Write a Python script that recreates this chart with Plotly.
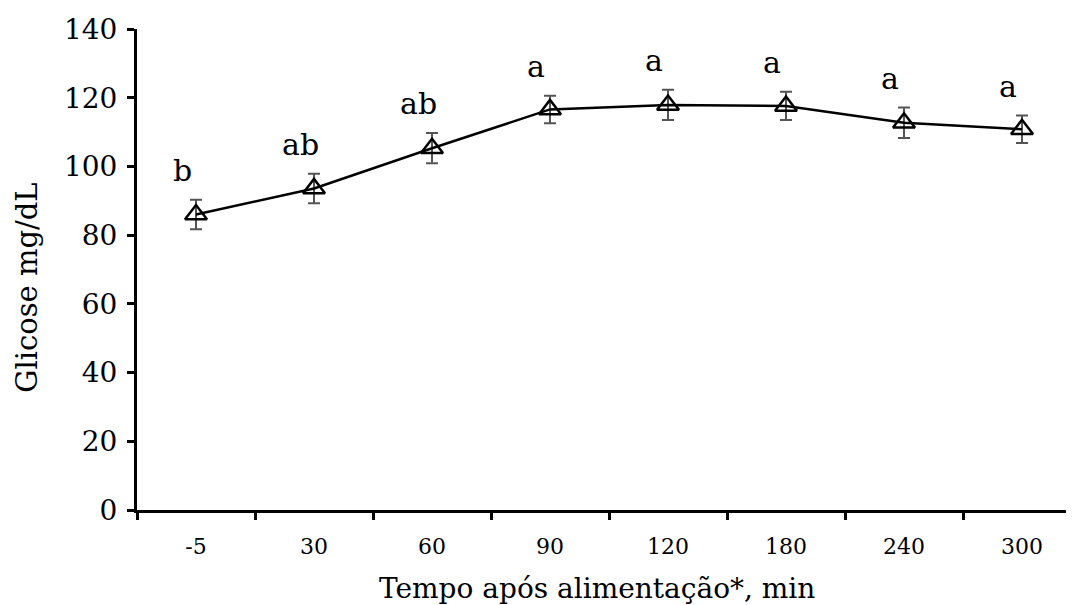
import plotly.graph_objects as go

categories = ["-5", "30", "60", "90", "120", "180", "240", "300"]
glicose = [86.0, 93.6, 105.3, 116.6, 117.9, 117.6, 112.7, 110.8]
erro = [4.3, 4.3, 4.4, 4.0, 4.4, 4.1, 4.45, 4.0]
letras = ["b", "ab", "ab", "a", "a", "a", "a", "a"]
y_ticks = [0, 20, 40, 60, 80, 100, 120, 140]

FONT = "DejaVu Serif"

fig = go.Figure()
fig.add_trace(go.Scatter(
    x=list(range(len(categories))), y=glicose,
    mode="lines+markers",
    line=dict(color="black", width=2.5),
    marker=dict(symbol="triangle-up-open", size=19, color="black",
                line=dict(color="black", width=2.5)),
    error_y=dict(type="data", array=erro, visible=True,
                 color="#555555", thickness=2, width=6),
    showlegend=False,
))

for i, (v, e, t) in enumerate(zip(glicose, erro, letras)):
    fig.add_annotation(x=i, y=v + e, text=t, showarrow=False,
                       yanchor="bottom", xanchor="center",
                       yshift=10, xshift=-14,
                       font=dict(family=FONT, size=30, color="black"))

W, H = 1074, 605
ml, mt = 129, 21
plot_h = 481.5
slot = 118.0
n = len(categories)
plot_w = slot * n
mr = W - ml - plot_w
mb = H - mt - plot_h

# axis titles as paper-positioned annotations
fig.add_annotation(xref="paper", yref="paper",
                   x=(27 - 137) / plot_w, y=(510.5 - 288) / plot_h,
                   text="Glicose mg/dL", textangle=-90, showarrow=False,
                   xanchor="center", yanchor="middle",
                   font=dict(family=FONT, size=29, color="black"))
fig.add_annotation(xref="paper", yref="paper",
                   x=(597 - 137) / plot_w, y=-(589 - 510.5) / plot_h,
                   text="Tempo após alimentação*, min", showarrow=False,
                   xanchor="center", yanchor="middle",
                   font=dict(family=FONT, size=28, color="black"))

fig.update_layout(
    width=W, height=H,
    margin=dict(l=ml, r=max(mr, 0), t=mt, b=mb),
    plot_bgcolor="white", paper_bgcolor="white",
    font=dict(family=FONT, color="black"),
)
fig.update_xaxes(
    tickmode="array", tickvals=list(range(n)), ticktext=categories,
    range=[-0.5, n - 0.5],
    showline=True, linecolor="black", linewidth=3,
    ticks="", showgrid=False, zeroline=False,
    tickfont=dict(family=FONT, size=22),
    ticklabelstandoff=15,
    minor=dict(tickvals=[i - 0.5 for i in range(n + 1)], ticks="outside",
               ticklen=7, tickwidth=3, tickcolor="black", showgrid=False),
)
fig.update_yaxes(
    range=[0, 140], tickvals=y_ticks,
    showline=True, linecolor="black", linewidth=3,
    ticks="outside", ticklen=7, tickwidth=3, tickcolor="black",
    showgrid=False, zeroline=False,
    tickfont=dict(family=FONT, size=28),
    ticklabelstandoff=4,
)

fig.write_html("out.html")
